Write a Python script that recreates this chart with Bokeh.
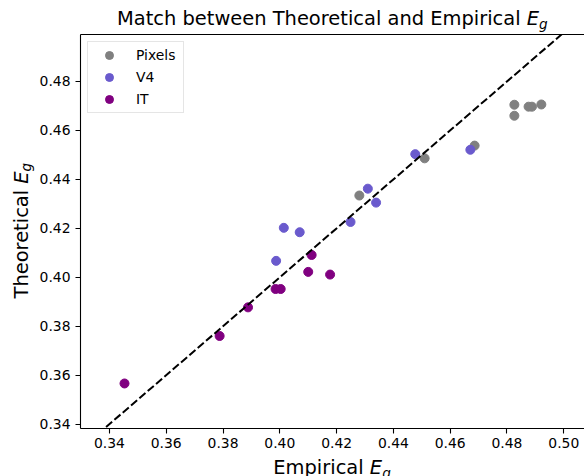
from bokeh.plotting import figure
from bokeh.models import (Range1d, FixedTicker, LinearAxis, Legend, LegendItem,
                          NumeralTickFormatter, Div)
from bokeh.layouts import column, row
from bokeh.embed import file_html
from bokeh.resources import INLINE

# ---- data ----
pixels_x = [0.4280, 0.4510, 0.4686, 0.4826, 0.4826, 0.4876, 0.4888, 0.4921]
pixels_y = [0.4334, 0.4486, 0.4538, 0.4705, 0.4660, 0.4697, 0.4697, 0.4706]

v4_x = [0.4014, 0.4070, 0.3987, 0.4249, 0.4310, 0.4339, 0.4477, 0.4671]
v4_y = [0.4202, 0.4184, 0.4067, 0.4226, 0.4362, 0.4305, 0.4503, 0.4521]

it_x = [0.4112, 0.4100, 0.4177, 0.3985, 0.4003, 0.3888, 0.3788, 0.3453]
it_y = [0.4091, 0.4022, 0.4011, 0.3952, 0.3952, 0.3877, 0.3760, 0.3566]

ref_x = [0.33, 0.51]
ref_y = [0.33, 0.51]

x_ticks = [0.34, 0.36, 0.38, 0.40, 0.42, 0.44, 0.46, 0.48, 0.50]
y_ticks = [0.34, 0.36, 0.38, 0.40, 0.42, 0.44, 0.46, 0.48]

series_names = ["Pixels", "V4", "IT"]
series_colors = ["#808080", "#6a5acd", "#800080"]

title_text = "Match between Theoretical and Empirical"
xlabel_text = "Empirical"
ylabel_text = "Theoretical"
sym_main, sym_sub = "E", "g"

FONT = "DejaVu Sans"

p = figure(width=548, height=421, output_backend="svg", toolbar_location=None,
           x_range=Range1d(0.3298, 0.5073), y_range=Range1d(0.3382, 0.4992),
           min_border_left=44, min_border_right=0, min_border_top=1, min_border_bottom=26,
           background_fill_color="white", border_fill_color="white", margin=0)
p.outline_line_color = None
p.grid.visible = False

for ax, ticks in ((p.xaxis[0], x_ticks), (p.yaxis[0], y_ticks)):
    ax.ticker = FixedTicker(ticks=ticks)
    ax.formatter = NumeralTickFormatter(format="0.00")
    ax.major_tick_out = 5
    ax.major_tick_in = 0
    ax.minor_tick_line_color = None
    ax.minor_tick_out = 0
    ax.major_tick_line_color = "black"
    ax.major_tick_line_width = 1.1
    ax.axis_line_color = "black"
    ax.axis_line_width = 1.1
    ax.major_label_text_font = FONT
    ax.major_label_text_font_size = "13.9px"
    ax.major_label_text_color = "black"
p.xaxis[0].major_label_standoff = 4
p.yaxis[0].major_label_standoff = 5

top_axis = LinearAxis(ticker=FixedTicker(ticks=[]), major_label_text_font_size="0px",
                      major_tick_line_color=None, minor_tick_line_color=None,
                      major_tick_out=0, minor_tick_out=0, major_label_standoff=0,
                      axis_line_color="black", axis_line_width=1.1)
p.add_layout(top_axis, "above")

renderers = []
for xs, ys, c in ((pixels_x, pixels_y, series_colors[0]),
                  (v4_x, v4_y, series_colors[1]),
                  (it_x, it_y, series_colors[2])):
    r = p.scatter(xs, ys, size=9, fill_color=c, line_color=c, marker="circle")
    renderers.append(r)

p.line(ref_x, ref_y, line_color="black", line_width=2, line_dash="8 3")

legend = Legend(items=[LegendItem(label=n, renderers=[r]) for n, r in zip(series_names, renderers)],
                location="top_left", margin=7, padding=3, spacing=2,
                glyph_width=36, glyph_height=20, label_height=20, label_width=44,
                label_standoff=9, label_text_font=FONT, label_text_font_size="13.9px",
                label_text_color="black",
                border_line_color="#cccccc", border_line_width=1,
                background_fill_color="white", background_fill_alpha=0.8)
p.add_layout(legend)

FS = 19.44          # label font size (px)
BASE = 16.45        # baseline offset inside a 1em line box for DejaVu Sans
SPAN = ("position:absolute; white-space:nowrap; font-family:'DejaVu Sans'; "
        f"font-size:{FS}px; line-height:{FS}px; color:#000;")
MATH = (f"<i>{sym_main}</i><sub style=\"font-size:13.6px; vertical-align:-3.8px; "
        f"line-height:0; font-style:italic\">{sym_sub}</sub>")

def box(w, h, inner):
    return f'<div style="position:relative; width:{w}px; height:{h}px;">{inner}</div>'

title_div = Div(width=584, height=33, margin=0, text=box(584, 33,
    f'<span style="{SPAN} left:117px; top:{25.7 - BASE:.2f}px;">{title_text} {MATH}</span>'))

ylab_div = Div(width=36, height=421, margin=0, text=box(36, 421,
    f'<span style="{SPAN} left:27.5px; top:{265.2 - BASE:.2f}px; '
    f'transform-origin:0 {BASE}px; transform:rotate(-90deg);">{ylabel_text} {MATH}</span>'))

xlab_div = Div(width=584, height=22, margin=0, text=box(584, 22,
    f'<span style="{SPAN} left:273.3px; top:{20 - BASE:.2f}px;">{xlabel_text} {MATH}</span>'))

layout = column(title_div, row(ylab_div, p, spacing=0, margin=0), xlab_div, spacing=0, margin=0)

open("out.html", "w").write(file_html(layout, INLINE))
